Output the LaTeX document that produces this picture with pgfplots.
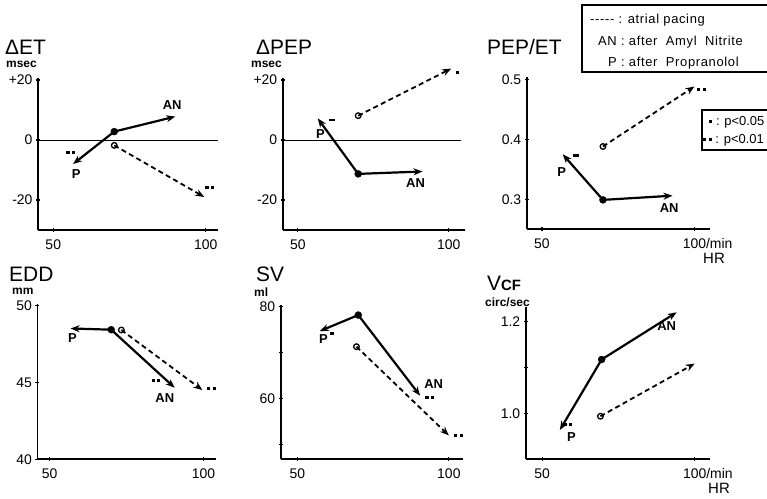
\documentclass[border=0pt]{standalone}
\usepackage{fontspec}
\setmainfont{Liberation Sans}
\newfontfamily\legfont[LetterSpace=5]{Liberation Sans}
\usepackage{pgfplots}
\pgfplotsset{compat=1.18}
\usetikzlibrary{arrows.meta}
\newcommand{\fs}[1]{\fontsize{#1}{#1}\selectfont}
\pgfplotsset{
  panel/.style={
    scale only axis, axis lines=left, axis line style={line width=1.6bp,-},
    enlargelimits=false, clip=false, anchor=south west,
    tick style={line width=1.1bp, black}, major tick length=4bp, tick align=center,
    ticklabel style={font=\fs{14}}, xtick={50,100},
    /pgf/number format/assume math mode=true,
    xticklabel style={yshift=-4bp},
  },
  sol/.style={line width=2.2bp, -{Stealth[length=9bp,width=7bp]}},
  dsh/.style={line width=1.8bp, dash pattern=on 5bp off 3.5bp, -{Stealth[length=9bp,width=7bp]}},
  fmark/.style={only marks, mark=*, mark size=3.5bp, mark options={solid}},
  omark/.style={only marks, mark=o, mark size=2.8bp, mark options={solid, fill=white, line width=1.3bp}},
}
\tikzset{lab/.style={font=\fs{13}\bfseries, inner sep=0pt}}
\newcommand{\sq}{\rule{3.2bp}{3.2bp}}
\newcommand{\dd}{\sq\hspace{2.2bp}\sq}
\newcommand{\lsq}{\rule[2.2bp]{3.2bp}{3.2bp}}
\newcommand{\ldd}{\lsq\hspace{2.2bp}\lsq}
\newcommand{\sd}{\rule[0.3ex]{6.5bp}{2.8bp}}
\begin{document}
\begin{tikzpicture}[x=1bp,y=1bp]
\useasboundingbox (0,0) rectangle (767,499);

% ---------- Delta ET ----------
\begin{axis}[panel, at={(38bp,269bp)}, width=180bp, height=151.5bp,
  xmin=45, xmax=104, ymin=-30, ymax=20.5,
  ytick={-20,0,20}, yticklabels={-20,0,+20}, xticklabels={50,100}]
\addplot[line width=0.8bp] coordinates {(45,0) (104,0)};
\addplot[sol] coordinates {(70,2.8) (90,7.8)};
\addplot[sol] coordinates {(70,2.8) (56.5,-8)};
\addplot[dsh] coordinates {(70,-1.8) (99.5,-19)};
\addplot[fmark] coordinates {(70,2.8)};
\addplot[omark] coordinates {(70,-1.8)};
\node[lab] at (axis cs:89,11.7) {AN};
\node[lab] at (axis cs:57.5,-11.5) {P};
\node[lab] at (axis cs:55.7,-4.3) {\dd};
\node[lab] at (axis cs:101.3,-15.8) {\dd};
\end{axis}

% ---------- Delta PEP ----------
\begin{axis}[panel, at={(282.7bp,269bp)}, width=182.7bp, height=151.5bp,
  xmin=45, xmax=105.5, ymin=-30, ymax=20.5,
  ytick={-20,0,20}, yticklabels={-20,0,+20}, xticklabels={50,100}]
\addplot[line width=0.8bp] coordinates {(45,0) (104,0)};
\addplot[sol] coordinates {(70,-11.3) (91.3,-10.5)};
\addplot[sol] coordinates {(70,-11.3) (56.6,7.2)};
\addplot[dsh] coordinates {(70,8.1) (100.8,23.8)};
\addplot[fmark] coordinates {(70,-11.3)};
\addplot[omark] coordinates {(70,8.1)};
\node[lab] at (axis cs:89,-14.5) {AN};
\node[lab] at (axis cs:57.5,2) {P};
\node[lab] at (axis cs:61.3,6.3) {\sd};
\node[lab] at (axis cs:102.8,22.5) {\sq};
\end{axis}

% ---------- PEP/ET ----------
\begin{axis}[panel, at={(526.7bp,269.7bp)}, width=183bp, height=151.8bp,
  xmin=45, xmax=105, ymin=0.25, ymax=0.503,
  ytick={0.3,0.4,0.5}, yticklabels={0.3,0.4,0.5}, xticklabels={50,100\rlap{/min}}]
\addplot[sol] coordinates {(70,0.299) (92.8,0.306)};
\addplot[sol] coordinates {(70,0.299) (56.8,0.375)};
\addplot[dsh] coordinates {(70,0.388) (100,0.488)};
\addplot[fmark] coordinates {(70,0.299)};
\addplot[omark] coordinates {(70,0.388)};
\node[lab] at (axis cs:91.7,0.285) {AN};
\node[lab] at (axis cs:56.5,0.346) {P};
\node[lab] at (axis cs:61.2,0.371) {\sd};
\node[lab] at (axis cs:102.3,0.483) {\dd};
\end{axis}

% ---------- EDD ----------
\begin{axis}[panel, at={(37.3bp,39.7bp)}, width=178.6bp, height=155bp,
  xmin=46, xmax=104, ymin=40, ymax=50.07,
  ytick={40,45,50}, yticklabels={40,45,50}, xticklabels={50,100}]
\addplot[sol] coordinates {(70,48.42) (56.8,48.5)};
\addplot[sol] coordinates {(70,48.42) (90.6,44.65)};
\addplot[dsh] coordinates {(73.3,48.4) (99.6,44.5)};
\addplot[fmark] coordinates {(70,48.42)};
\addplot[omark] coordinates {(73.3,48.4)};
\node[lab] at (axis cs:87.4,43.95) {AN};
\node[lab] at (axis cs:57.4,47.9) {P};
\node[lab] at (axis cs:84.6,45.1) {\dd};
\node[lab] at (axis cs:102.6,44.6) {\dd};
\end{axis}

% ---------- SV ----------
\begin{axis}[panel, at={(280.7bp,39.7bp)}, width=182.1bp, height=154.3bp,
  xmin=44.5, xmax=104.6, ymin=46.7, ymax=80.4,
  ytick={50,60,70,80}, yticklabels={,60,,80}, xticklabels={50,100}]
\addplot[sol] coordinates {(70.1,78.2) (57.4,74.7)};
\addplot[sol] coordinates {(70.1,78.2) (90.5,60.6)};
\addplot[dsh] coordinates {(69.5,71.3) (100,51.9)};
\addplot[fmark] coordinates {(70.1,78.2)};
\addplot[omark] coordinates {(69.5,71.3)};
\node[lab] at (axis cs:95,63.2) {AN};
\node[lab] at (axis cs:58.6,72.9) {P};
\node[lab] at (axis cs:61.4,74.2) {\sq};
\node[lab] at (axis cs:93.7,60.2) {\dd};
\node[lab] at (axis cs:103.2,51.9) {\dd};
\end{axis}

% ---------- Vcf ----------
\begin{axis}[panel, at={(525.7bp,39.7bp)}, width=184.2bp, height=152bp,
  xmin=44.6, xmax=105, ymin=0.9, ymax=1.232,
  ytick={1.0,1.1,1.2}, yticklabels={1.0,,1.2}, xticklabels={50,100\rlap{/min}}]
\addplot[sol] coordinates {(69.5,1.118) (94.1,1.221)};
\addplot[sol] coordinates {(69.5,1.118) (55.8,0.964)};
\addplot[dsh] coordinates {(69.1,0.994) (100,1.109)};
\addplot[fmark] coordinates {(69.5,1.118)};
\addplot[omark] coordinates {(69.1,0.994)};
\node[lab] at (axis cs:90.8,1.19) {AN};
\node[lab] at (axis cs:59.6,0.948) {P};
\node[lab] at (axis cs:58.4,0.976) {\dd};
\end{axis}

% ---------- titles ----------
\node[anchor=west, inner sep=0, font=\fs{21}] at (5,452) {ΔET};
\node[anchor=west, inner sep=0, font=\fs{12}\bfseries] at (6,435) {msec};
\node[anchor=west, inner sep=0, font=\fs{21}] at (256,452) {ΔPEP};
\node[anchor=west, inner sep=0, font=\fs{12}\bfseries] at (251,435) {msec};
\node[anchor=west, inner sep=0, font=\fs{21}] at (487,452) {PEP/ET};
\node[anchor=west, inner sep=0, font=\fs{21}] at (9,225) {EDD};
\node[anchor=west, inner sep=0, font=\fs{12}\bfseries] at (12,208) {mm};
\node[anchor=west, inner sep=0, font=\fs{21}] at (256,225) {SV};
\node[anchor=west, inner sep=0, font=\fs{12}\bfseries] at (254,207) {ml};
\node[anchor=west, inner sep=0, font=\fs{21}] at (487,216) {V{\fs{15}\bfseries CF}};
\node[anchor=west, inner sep=0, font=\fs{12}\bfseries] at (485,197) {circ/sec};
\node[inner sep=0, font=\fs{15}] at (714,241) {HR};
\node[inner sep=0, font=\fs{15}] at (719,11) {HR};

% ---------- legend boxes ----------
\draw[line width=1.2bp] (582,427) rectangle (780,494);
\node[anchor=west, inner sep=0, font=\legfont\fs{13}] at (590,479) {{-}{-}{-}{-}{-} : atrial pacing};
\node[anchor=west, inner sep=0, font=\legfont\fs{13}] at (598,457) {AN : after\ \ Amyl\ \ Nitrite};
\node[anchor=west, inner sep=0, font=\legfont\fs{13}] at (608,436) {P : after\ \ Propranolol};
\draw[line width=1.2bp] (702,349) rectangle (780,389);
\node[anchor=west, inner sep=0, font=\fs{13}] at (709,377) {\lsq\ : p<0.05};
\node[anchor=west, inner sep=0, font=\fs{13}] at (703,359) {\ldd\ : p<0.01};
\end{tikzpicture}
\end{document}
